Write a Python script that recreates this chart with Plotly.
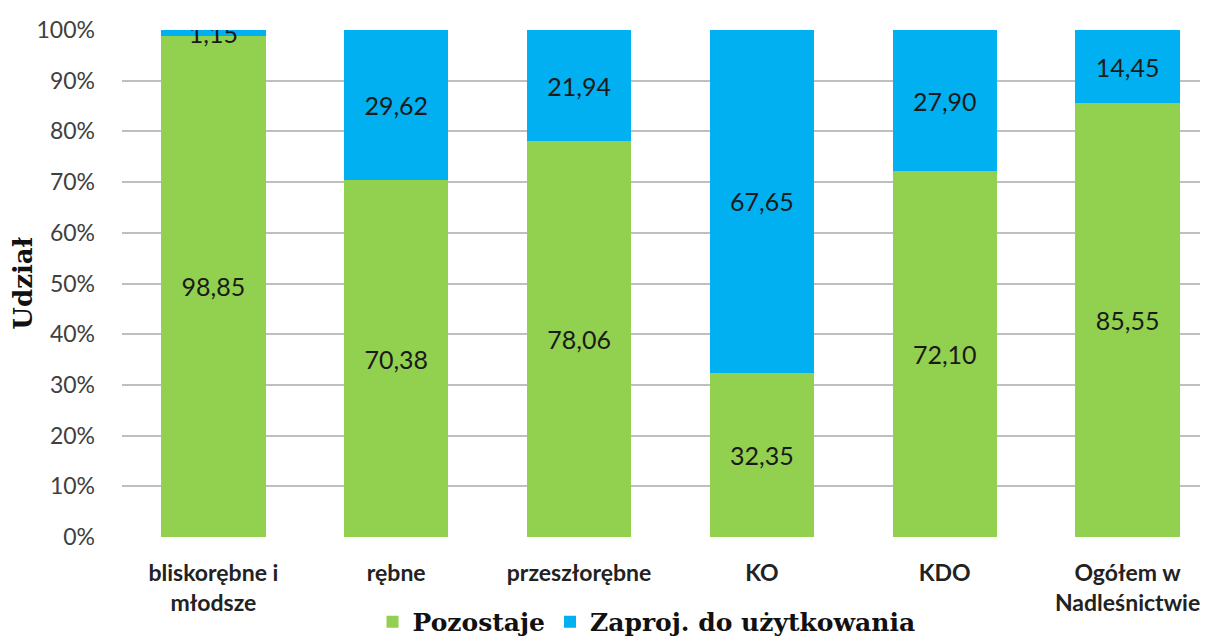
import plotly.graph_objects as go

categories = ["bliskorębne i<br>młodsze", "rębne", "przeszłorębne", "KO", "KDO", "Ogółem w<br>Nadleśnictwie"]
pozostaje = [98.85, 70.38, 78.06, 32.35, 72.10, 85.55]
zaproj = [1.15, 29.62, 21.94, 67.65, 27.90, 14.45]
y_ticks = [0, 10, 20, 30, 40, 50, 60, 70, 80, 90, 100]
y_labels = [f"{v}%" for v in y_ticks]

x = list(range(len(categories)))
lbl_font = dict(family="Lato", size=25, color="#1a1a1a")
fig = go.Figure()
fig.add_trace(go.Bar(x=x, y=pozostaje, name="Pozostaje", marker_color="#92D050",
                     marker_line_width=0,
                     texttemplate="%{y:.2f}", textposition="inside",
                     insidetextanchor="middle", constraintext="none", textfont=lbl_font))
fig.add_trace(go.Bar(x=x, y=zaproj, name="Zaproj. do użytkowania", marker_color="#00B0F0",
                     marker_line_width=0,
                     texttemplate="%{y:.2f}", textposition="inside",
                     insidetextanchor="middle", constraintext="none", textfont=lbl_font))

fig.update_layout(
    barmode="stack", bargap=0.43, width=1200, height=629,
    margin=dict(l=114, r=0, t=22, b=100),
    plot_bgcolor="white", paper_bgcolor="white", separators=", ",
    font=dict(family="Lato", color="#404040"),
    legend=dict(orientation="h", x=0.483, xanchor="center", yref="container", y=0.024, yanchor="middle",
                font=dict(family="DejaVu Serif", size=25, color="#111", weight="bold"),
                traceorder="normal"),
    showlegend=True,
)
fig.update_xaxes(tickvals=x, ticktext=[f"<b>{c}</b>" for c in categories], range=[-0.5, 5.44],
                 tickfont=dict(family="Lato", size=23, color="#222"), showline=False,
                 ticks="", automargin=False, ticklabelstandoff=20)
fig.update_yaxes(range=[0, 100], tickvals=y_ticks, ticktext=y_labels,
                 tickfont=dict(family="Lato", size=23, color="#404040"),
                 gridcolor="#BFBFBF", gridwidth=1.5, zeroline=False, ticklabelstandoff=26,
                 automargin=False,
                 title=dict(text="<b>Udział</b>", font=dict(family="DejaVu Serif", size=26, color="#111"), standoff=10))
fig.write_html("out.html")
